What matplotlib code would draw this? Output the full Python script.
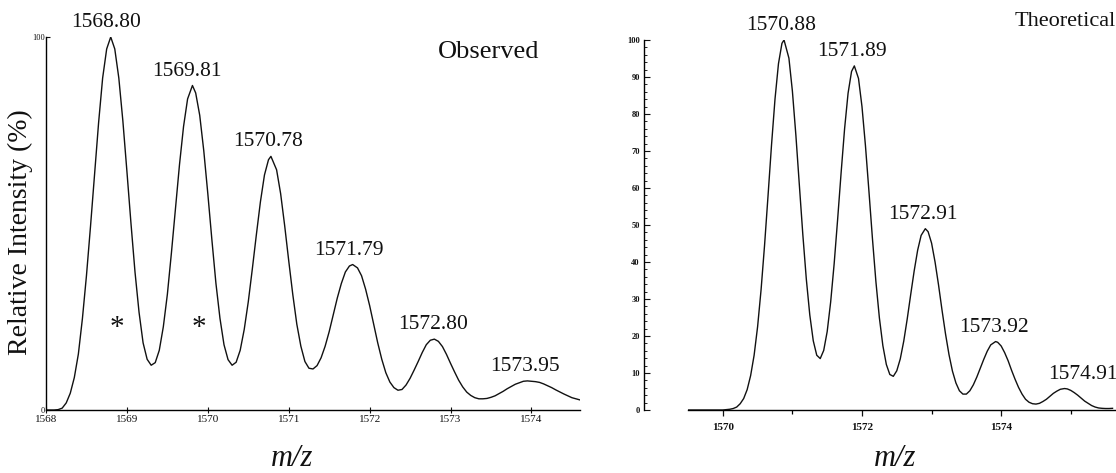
"""Isotope envelopes: observed vs theoretical (two panels)."""
import matplotlib
matplotlib.use("Agg")
import matplotlib.pyplot as plt
from matplotlib.ticker import MultipleLocator, FixedLocator

SERIF = "Liberation Serif"
INK = "#111111"

plt.rcParams.update({
    "font.family": SERIF,
    "axes.linewidth": 1.0,
})

# ---- observed spectrum (profile) ----
obs_mz = [1568.0, 1568.05, 1568.1, 1568.15, 1568.2, 1568.25, 1568.3, 1568.35, 1568.4, 1568.45,
          1568.5, 1568.55, 1568.6, 1568.65, 1568.7, 1568.75, 1568.8, 1568.85, 1568.9, 1568.95,
          1569.0, 1569.05, 1569.1, 1569.15, 1569.2, 1569.25, 1569.3, 1569.35, 1569.4, 1569.45,
          1569.5, 1569.55, 1569.6, 1569.65, 1569.7, 1569.75, 1569.81, 1569.85, 1569.9, 1569.95,
          1570.0, 1570.05, 1570.1, 1570.15, 1570.2, 1570.25, 1570.3, 1570.35, 1570.4, 1570.45,
          1570.5, 1570.55, 1570.6, 1570.65, 1570.7, 1570.75, 1570.78, 1570.85, 1570.9, 1570.95,
          1571.0, 1571.05, 1571.1, 1571.15, 1571.2, 1571.25, 1571.3, 1571.35, 1571.4, 1571.45,
          1571.5, 1571.55, 1571.6, 1571.65, 1571.7, 1571.75, 1571.79, 1571.85, 1571.9, 1571.95,
          1572.0, 1572.05, 1572.1, 1572.15, 1572.2, 1572.25, 1572.3, 1572.35, 1572.4, 1572.45,
          1572.5, 1572.55, 1572.6, 1572.65, 1572.7, 1572.75, 1572.8, 1572.85, 1572.9, 1572.95,
          1573.0, 1573.05, 1573.1, 1573.15, 1573.2, 1573.25, 1573.3, 1573.35, 1573.4, 1573.45,
          1573.5, 1573.55, 1573.6, 1573.65, 1573.7, 1573.75, 1573.8, 1573.85, 1573.9, 1573.95,
          1574.0, 1574.05, 1574.1, 1574.15, 1574.2, 1574.25, 1574.3, 1574.35, 1574.4, 1574.45,
          1574.5, 1574.55, 1574.6]
obs_int = [0, 0, 0, 0.1, 0.5, 1.9, 4.5, 8.7, 15, 24.5,
           36, 49.2, 63, 77, 89, 96.8, 100, 96.8, 89, 77.5,
           64, 50.1, 37, 26.2, 18, 13.6, 12, 12.7, 16, 22.3,
           31, 42.1, 54, 65.8, 76, 83.4, 87, 85, 79, 69.5,
           58, 45.7, 34, 24.6, 17.5, 13.5, 12, 12.8, 16, 21.6,
           29, 37.8, 47, 55.8, 63, 67.1, 68, 64.4, 58, 49.4,
           40, 31, 23, 17.1, 13, 11.2, 11, 11.9, 14, 17.1,
           21, 25.5, 30, 33.9, 37, 38.6, 39, 38.1, 36, 32.4,
           28, 23, 18, 13.6, 10, 7.5, 6, 5.3, 5.5, 6.7,
           8.5, 10.7, 13, 15.4, 17.5, 18.7, 19, 18.4, 17, 14.9,
           12.5, 10.2, 8, 6.2, 4.8, 3.9, 3.3, 3.0, 3, 3.1,
           3.4, 3.8, 4.4, 5.0, 5.7, 6.3, 6.9, 7.3, 7.7, 7.8,
           7.7, 7.6, 7.4, 7.0, 6.5, 6.0, 5.4, 4.85, 4.3, 3.8,
           3.3, 3.0, 2.7]
obs_peaks = [1568.80, 1569.81, 1570.78, 1571.79, 1572.80, 1573.95]
obs_labels = ["1568.80", "1569.81", "1570.78", "1571.79", "1572.80", "1573.95"]
obs_star_mz = [1568.88, 1569.89]

# ---- theoretical envelope ----
theo_mz = [1569.5, 1569.55, 1569.6, 1569.65, 1569.7, 1569.75, 1569.8, 1569.85, 1569.9, 1569.95,
           1570.0, 1570.05, 1570.1, 1570.15, 1570.2, 1570.25, 1570.3, 1570.35, 1570.4, 1570.45,
           1570.5, 1570.55, 1570.6, 1570.65, 1570.7, 1570.75, 1570.8, 1570.85, 1570.88, 1570.95,
           1571.0, 1571.05, 1571.1, 1571.15, 1571.2, 1571.25, 1571.3, 1571.35, 1571.4, 1571.45,
           1571.5, 1571.55, 1571.6, 1571.65, 1571.7, 1571.75, 1571.8, 1571.85, 1571.89, 1571.95,
           1572.0, 1572.05, 1572.1, 1572.15, 1572.2, 1572.25, 1572.3, 1572.35, 1572.4, 1572.45,
           1572.5, 1572.55, 1572.6, 1572.65, 1572.7, 1572.75, 1572.8, 1572.85, 1572.91, 1572.95,
           1573.0, 1573.05, 1573.1, 1573.15, 1573.2, 1573.25, 1573.3, 1573.35, 1573.4, 1573.45,
           1573.5, 1573.55, 1573.6, 1573.65, 1573.7, 1573.75, 1573.8, 1573.85, 1573.92, 1573.95,
           1574.0, 1574.05, 1574.1, 1574.15, 1574.2, 1574.25, 1574.3, 1574.35, 1574.4, 1574.45,
           1574.5, 1574.55, 1574.6, 1574.65, 1574.7, 1574.75, 1574.8, 1574.85, 1574.91, 1574.95,
           1575.0, 1575.05, 1575.1, 1575.15, 1575.2, 1575.25, 1575.3, 1575.35, 1575.4, 1575.45,
           1575.5, 1575.55, 1575.6]
theo_int = [0, 0, 0, 0, 0, 0, 0, 0, 0, 0,
            0, 0.1, 0.2, 0.4, 0.8, 1.7, 3.1, 5.5, 9.3, 14.8,
            22.5, 32.5, 44.5, 57.9, 71.6, 84, 93.6, 99.1, 100, 95.1,
            86.2, 74.3, 60.8, 47.4, 35.4, 25.7, 18.7, 14.8, 13.9, 16.1,
            21.2, 29.2, 39.5, 51.5, 64.1, 76, 85.6, 91.5, 93, 89.6,
            82, 71.4, 59.1, 46.4, 34.7, 24.9, 17.4, 12.3, 9.6, 9.1,
            10.6, 13.8, 18.6, 24.6, 31.2, 37.6, 43.2, 47.2, 49, 48.2,
            45.1, 40, 33.8, 27, 20.6, 15, 10.5, 7.3, 5.2, 4.3,
            4.3, 5.2, 6.8, 8.9, 11.3, 13.7, 15.9, 17.6, 18.5, 18.3,
            17.3, 15.5, 13.3, 10.7, 8.3, 6.1, 4.3, 2.9, 2.1, 1.7,
            1.6, 1.8, 2.3, 2.9, 3.7, 4.5, 5.1, 5.6, 5.8, 5.7,
            5.3, 4.7, 4.0, 3.2, 2.4, 1.8, 1.2, 0.8, 0.55, 0.45,
            0.4, 0.4, 0.45]
theo_peaks = [1570.88, 1571.89, 1572.91, 1573.92, 1574.91]
theo_labels = ["1570.88", "1571.89", "1572.91", "1573.92", "1574.91"]

assert len(obs_mz) == len(obs_int) and len(theo_mz) == len(theo_int)

W, H = 1116, 473
fig = plt.figure(figsize=(W / 100, H / 100), dpi=100)
fig.patch.set_facecolor("white")


def label_peaks(ax, mz, inten, peaks, labels, dx):
    for p, lab, off in zip(peaks, labels, dx):
        y = inten[mz.index(p)]
        ax.annotate(lab, xy=(p, y), xytext=(off, 3.5), textcoords="offset points",
                    ha="center", va="bottom", fontsize=15.5, color=INK)


# ---------------- left: observed ----------------
axL = fig.add_axes([46 / W, 63 / H, 534 / W, 373 / H])
axL.plot(obs_mz, obs_int, color=INK, lw=1.0)
axL.set_xlim(1568, 1574.6)
axL.set_ylim(0, 100)
for sp in ["top", "right"]:
    axL.spines[sp].set_visible(False)
axL.xaxis.set_major_locator(MultipleLocator(1))
axL.yaxis.set_major_locator(FixedLocator([0, 100]))
axL.tick_params(axis="x", direction="inout", length=5, width=0.8, pad=1,
                labelsize=8, colors=INK)
axL.tick_params(axis="y", direction="in", length=3, width=0.8, pad=1,
                labelsize=6, colors=INK)
axL.set_xticklabels([f"{v:.0f}" for v in axL.get_xticks()])
label_peaks(axL, obs_mz, obs_int, obs_peaks, obs_labels, [-3, -4, -2, -3, -1, -2])
for s in obs_star_mz:
    axL.text(s, 22, "*", fontsize=21, ha="center", va="center", color=INK)
axL.text(0.828, 0.96, "Observed", transform=axL.transAxes, fontsize=19,
         ha="center", va="center", color=INK)

# ---------------- right: theoretical ----------------
axR = fig.add_axes([688 / W, 63 / H, 428 / W, 370 / H])
axR.plot(theo_mz, theo_int, color=INK, lw=1.0)
axR.set_xlim(1569.5, 1575.65)
axR.set_ylim(0, 100)
for sp in ["top", "right"]:
    axR.spines[sp].set_visible(False)
axR.spines["left"].set_position(("outward", 31.7))
axR.xaxis.set_major_locator(MultipleLocator(2))
axR.xaxis.set_minor_locator(MultipleLocator(1))
axR.yaxis.set_major_locator(MultipleLocator(10))
axR.yaxis.set_minor_locator(MultipleLocator(2))
axR.tick_params(axis="x", which="major", direction="out", length=4, width=0.9,
                pad=5, labelsize=8, colors=INK)
axR.tick_params(axis="x", which="minor", direction="out", length=3, width=0.9)
axR.tick_params(axis="y", which="major", direction="in", length=4, width=0.8,
                pad=3, labelsize=6, colors=INK)
axR.tick_params(axis="y", which="minor", direction="in", length=2, width=0.6)
for t in axR.get_xticklabels() + axR.get_yticklabels():
    t.set_fontweight("bold")
label_peaks(axR, theo_mz, theo_int, theo_peaks, theo_labels, [-2, -2, -2, -1, 13])
axR.text(1.0, 1.05, "Theoretical", transform=axR.transAxes, fontsize=16,
         ha="right", va="center", color=INK)

# ---------------- shared text ----------------
fig.text(20 / W, 1 - 232 / H, "Relative Intensity (%)", rotation=90,
         fontsize=20, ha="center", va="center", color=INK)
fig.text(292 / W, 1 - 466 / H, "m/z", fontsize=22, style="italic",
         ha="center", va="baseline", color=INK)
fig.text(895 / W, 1 - 466 / H, "m/z", fontsize=22, style="italic",
         ha="center", va="baseline", color=INK)

fig.savefig("out.png", dpi=100, facecolor="white")
